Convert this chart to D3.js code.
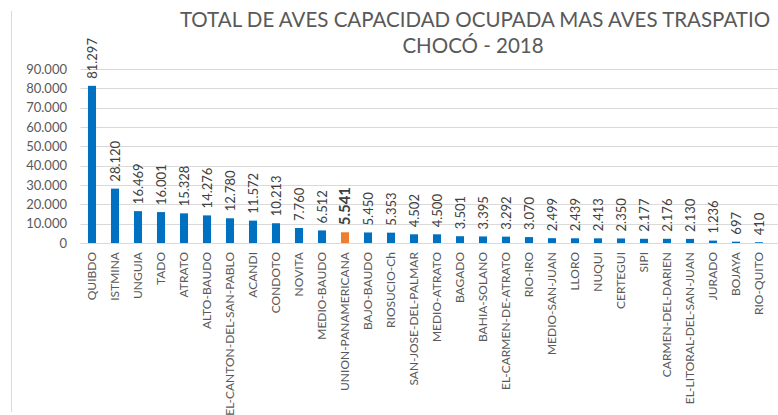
<!DOCTYPE html>
<html lang="es">
<head>
<meta charset="UTF-8">
<title>Total de aves Chocó 2018</title>
<style>
  body { margin: 0; background: #fff; }
  text { font-family: Lato, "Open Sans", sans-serif; }
</style>
</head>
<body>
<div id="root"></div>
<script src="https://d3js.org/d3.v7.min.js"></script>
<script>
// municipios y valores
const municipios = ["QUIBDO", "ISTMINA", "UNGUIA", "TADO", "ATRATO", "ALTO-BAUDO",
  "EL-CANTON-DEL-SAN-PABLO", "ACANDI", "CONDOTO", "NOVITA", "MEDIO-BAUDO",
  "UNION-PANAMERICANA", "BAJO-BAUDO", "RIOSUCIO-Ch", "SAN-JOSE-DEL-PALMAR",
  "MEDIO-ATRATO", "BAGADO", "BAHIA-SOLANO", "EL-CARMEN-DE-ATRATO", "RIO-IRO",
  "MEDIO-SAN-JUAN", "LLORO", "NUQUI", "CERTEGUI", "SIPI", "CARMEN-DEL-DARIEN",
  "EL-LITORAL-DEL-SAN-JUAN", "JURADO", "BOJAYA", "RIO-QUITO"]
const totalAves = [81297, 28120, 16469, 16001, 15328, 14276, 12780, 11572, 10213, 7760,
  6512, 5541, 5450, 5353, 4502, 4500, 3501, 3395, 3292, 3070, 2499, 2439, 2413, 2350,
  2177, 2176, 2130, 1236, 697, 410]
const resaltado = "UNION-PANAMERICANA"
const yTicks = [0, 10000, 20000, 30000, 40000, 50000, 60000, 70000, 80000, 90000]

const data = municipios.map((m, i) => ({ name: m, value: totalAves[i] }))

const W = 778, H = 415
const svg = d3.select("#root").append("svg")
  .attr("width", W)
  .attr("height", H)

// chart border (left side only visible)
svg.append("line")
  .attr("x1", 11.5).attr("x2", 11.5)
  .attr("y1", 11).attr("y2", 412)
  .attr("stroke", "#d9d9d9")

const plot = { left: 80.5, right: 770.5, top: 69, bottom: 243 }

const x = d3.scaleBand()
  .domain(municipios)
  .range([plot.left, plot.right])
  .paddingInner(0.65)
  .paddingOuter(0.325)

const y = d3.scaleLinear()
  .domain([0, 90000])
  .range([plot.bottom, plot.top])

const fmt = d3.formatLocale({ decimal: ",", thousands: ".", grouping: [3], currency: ["$", ""] }).format(",")

// gridlines
svg.append("g")
  .selectAll("line")
  .data(yTicks.slice(1))
  .join("line")
  .attr("x1", plot.left).attr("x2", W)
  .attr("y1", d => Math.round(y(d)) + 0.5)
  .attr("y2", d => Math.round(y(d)) + 0.5)
  .attr("stroke", "#d9d9d9")

// y axis labels
svg.append("g")
  .selectAll("text")
  .data(yTicks)
  .join("text")
  .attr("x", 67)
  .attr("y", d => y(d))
  .attr("dy", "0.35em")
  .attr("text-anchor", "end")
  .attr("font-size", 13)
  .attr("fill", "#595959")
  .text(d => fmt(d))

// bars
svg.append("g")
  .selectAll("rect")
  .data(data)
  .join("rect")
  .attr("x", d => x(d.name))
  .attr("width", x.bandwidth())
  .attr("y", d => y(d.value))
  .attr("height", d => y(0) - y(d.value))
  .attr("fill", d => d.name === resaltado ? "#ED7D31" : "#0070C0")

// baseline
svg.append("line")
  .attr("x1", plot.left).attr("x2", W)
  .attr("y1", plot.bottom + 0.5).attr("y2", plot.bottom + 0.5)
  .attr("stroke", "#d9d9d9")

// value labels
svg.append("g")
  .selectAll("text")
  .data(data)
  .join("text")
  .attr("transform", d => `translate(${x(d.name) + x.bandwidth() / 2},${y(d.value) - 7}) rotate(-90)`)
  .attr("dy", "0.35em")
  .attr("text-anchor", "start")
  .attr("font-size", d => d.name === resaltado ? 15 : 13)
  .attr("font-weight", d => d.name === resaltado ? "bold" : "normal")
  .attr("fill", "#404040")
  .text(d => fmt(d.value))

// category labels
svg.append("g")
  .selectAll("text")
  .data(data)
  .join("text")
  .attr("transform", d => `translate(${x(d.name) + x.bandwidth() / 2},252) rotate(-90)`)
  .attr("dy", "0.35em")
  .attr("text-anchor", "end")
  .attr("font-size", 12)
  .attr("fill", "#595959")
  .text(d => d.name)

// title
const title = svg.append("text")
  .attr("x", 475)
  .attr("y", 27)
  .attr("text-anchor", "middle")
  .attr("font-size", 20.5)
  .attr("fill", "#595959")
title.append("tspan").attr("x", 475).text("TOTAL DE AVES CAPACIDAD OCUPADA MAS AVES TRASPATIO")
title.append("tspan").attr("x", 473).attr("dy", 26).text("CHOCÓ - 2018")
</script>
</body>
</html>
